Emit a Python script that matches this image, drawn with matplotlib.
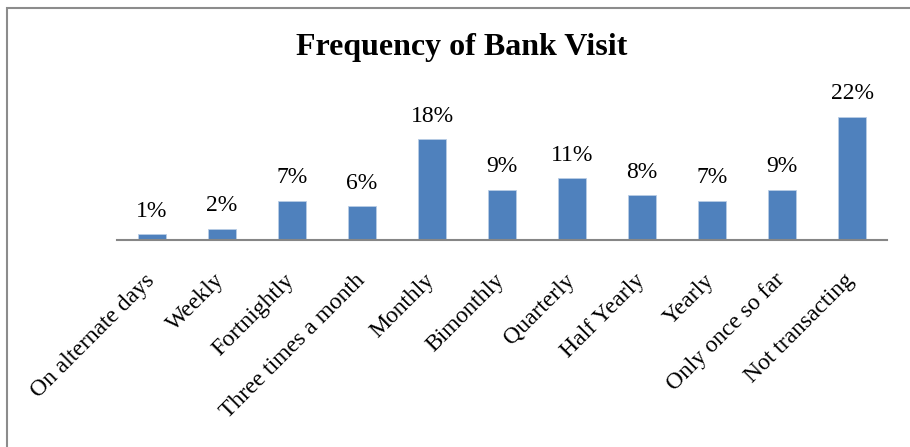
import matplotlib
matplotlib.use("Agg")
import matplotlib.pyplot as plt
from matplotlib.patches import Rectangle
from matplotlib.transforms import ScaledTranslation

categories = ["On alternate days", "Weekly", "Fortnightly", "Three times a month",
              "Monthly", "Bimonthly", "Quarterly", "Half Yearly", "Yearly",
              "Only once so far", "Not transacting"]
share = [1, 2, 7, 6, 18, 9, 11, 8, 7, 9, 22]

plt.rcParams["font.family"] = ["Liberation Serif", "DejaVu Serif"]

W, H = 910, 447
fig = plt.figure(figsize=(W / 100, H / 100), dpi=100)

# outer chart frame (only top and left edges fall inside the image)
fig.patches.append(Rectangle((7 / W, -0.1), 1.2, (H - 8) / H + 0.1,
                             transform=fig.transFigure, fill=False,
                             edgecolor="#8c8c8c", linewidth=1.5))

ax = fig.add_axes([117 / W, (H - 240) / H, 770 / W, 160 / H])
x = range(len(categories))
ax.bar(x, share, width=0.4, color="#4f81bd", edgecolor="#b9cde5", linewidth=0.6)
ax.set_xlim(-0.5, len(categories) - 0.5)
ax.set_ylim(0, 28.6)

for i, v in enumerate(share):
    ax.annotate(f"{v}%", (i, v), xytext=(0, 9), textcoords="offset points",
                ha="center", va="bottom", fontsize=17)

ax.set_xticks(list(x))
ax.set_xticklabels(categories, rotation=45, ha="right", rotation_mode="anchor",
                   fontsize=17)
ax.tick_params(axis="x", length=0, pad=20)
# nudge the slanted labels so their ends sit under the bars
shift = ScaledTranslation(-8 / 100, -2 / 100, fig.dpi_scale_trans)
for lbl in ax.get_xticklabels():
    lbl.set_transform(lbl.get_transform() + shift)
ax.set_yticks([])
for s in ["top", "right", "left"]:
    ax.spines[s].set_visible(False)
ax.spines["bottom"].set_color("#868686")
ax.spines["bottom"].set_linewidth(1.5)

fig.text(462 / W, 1 - 48 / H, "Frequency of Bank Visit", ha="center", va="center",
         fontsize=23, fontweight="bold")

fig.savefig("out.png", dpi=100)
